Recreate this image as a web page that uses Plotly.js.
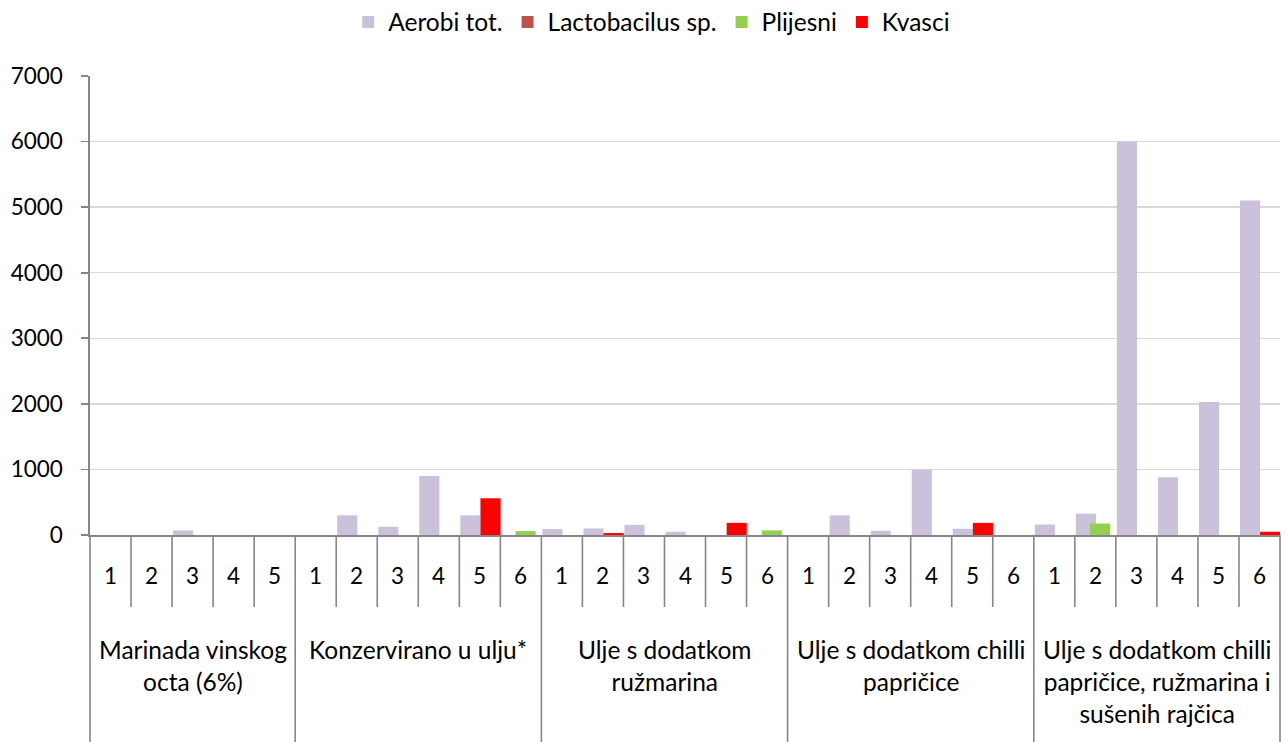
<!DOCTYPE html>
<html>
<head>
<meta charset="utf-8">
<script src="https://cdn.plot.ly/plotly-3.0.1.min.js"></script>
<style>html,body{margin:0;padding:0;background:#fff;}#chart{width:1288px;height:742px;}</style>
</head>
<body>
<div id="chart"></div>
<script>
// ---- data ----
var groupNames = [
  "Marinada vinskog<br>octa (6%)",
  "Konzervirano u ulju*",
  "Ulje s dodatkom<br>ružmarina",
  "Ulje s dodatkom chilli<br>papričice",
  "Ulje s dodatkom chilli<br>papričice, ružmarina i<br>sušenih rajčica"
];
var groupSizes = [5, 6, 6, 6, 6];
var seriesNames = ["Aerobi tot.", "Lactobacilus sp.", "Plijesni", "Kvasci"];
var seriesColors = ["#CCC1DA", "#C0504D", "#92D050", "#FF0000"];
// values per item, in order (group 1 items 1-5, group 2 items 1-6, ...)
var aerobi   = [0, 0, 70, 0, 0,   0, 300, 125, 900, 300, 0,   90, 100, 155, 50, 0, 0,   0, 300, 65, 1000, 95, 0,   160, 325, 6000, 880, 2030, 5100];
var lacto    = [0, 0, 0, 0, 0,    0, 0, 0, 0, 0, 0,           0, 0, 0, 0, 0, 0,          0, 0, 0, 0, 0, 0,          0, 0, 0, 0, 0, 0];
var plijesni = [0, 0, 0, 0, 0,    0, 0, 0, 0, 0, 60,          0, 0, 0, 0, 0, 70,         0, 0, 0, 0, 0, 0,          0, 175, 0, 0, 0, 0];
var kvasci   = [0, 0, 0, 0, 0,    0, 0, 0, 0, 560, 0,         0, 30, 0, 0, 185, 0,       0, 0, 0, 0, 185, 0,        0, 0, 0, 0, 0, 50];
var yTicks = [0, 1000, 2000, 3000, 4000, 5000, 6000, 7000];

// ---- build ----
var xPos = [], itemLabels = [];
var idx = 0;
groupSizes.forEach(function (n) {
  for (var k = 1; k <= n; k++) { xPos.push(idx); itemLabels.push(String(k)); idx++; }
});
var nItems = idx;

var seriesValues = [aerobi, lacto, plijesni, kvasci];
var offsets = [-0.475, -0.31, -0.13, 0.015];
var widths = [0.49, 0.49, 0.49, 0.49];

var traces = seriesValues.map(function (vals, s) {
  return {
    type: "bar", x: xPos, y: vals, name: seriesNames[s],
    marker: { color: seriesColors[s], line: { width: 0 } },
    offset: offsets[s], width: widths[s], hoverinfo: "x+y+name"
  };
});

var FONT = "Lato, 'Open Sans', sans-serif";
var TEXT_SIZE = 24.5, NUM_SIZE = 22.5;
var plotTop = 76, plotBottom = 535, plotH = plotBottom - plotTop;
function pyPaper(px) { return (plotBottom - px) / plotH; }
function pxPaper(i) { return (i + 0.5) / nItems; }

var shapes = [], annotations = [];
var lineStyle = { color: "#868686", width: 1.6 };
var boundaries = [0];
var acc = 0;
groupSizes.forEach(function (n) { acc += n; boundaries.push(acc); });
for (var b = 0; b <= nItems; b++) {
  var isGroup = boundaries.indexOf(b) >= 0;
  shapes.push({
    type: "line", xref: "paper", yref: "paper",
    x0: b / nItems, x1: b / nItems,
    y0: pyPaper(plotBottom), y1: pyPaper(isGroup ? 742 : 607),
    line: lineStyle, layer: "above"
  });
}
for (var i = 0; i < nItems; i++) {
  annotations.push({
    xref: "paper", yref: "paper", x: pxPaper(i), y: pyPaper(575.5),
    text: itemLabels[i], showarrow: false, xanchor: "center", yanchor: "middle",
    font: { family: FONT, size: NUM_SIZE, color: "#000" }
  });
}
for (var g = 0; g < groupNames.length; g++) {
  var c = (boundaries[g] + boundaries[g + 1]) / 2 / nItems;
  annotations.push({
    xref: "paper", yref: "paper", x: c, y: pyPaper(633),
    text: groupNames[g], showarrow: false, xanchor: "center", yanchor: "top",
    align: "center", font: { family: FONT, size: TEXT_SIZE, color: "#000" }
  });
}

var layout = {
  width: 1288, height: 742,
  margin: { l: 90, r: 8, t: plotTop, b: 742 - plotBottom, pad: 0 },
  paper_bgcolor: "#fff", plot_bgcolor: "#fff",
  barmode: "overlay",
  font: { family: FONT, size: TEXT_SIZE, color: "#000" },
  showlegend: true,
  legend: {
    orientation: "h", xref: "container", yref: "container",
    x: 0.506, xanchor: "center", y: 1 - 22 / 742, yanchor: "middle",
    font: { family: FONT, size: TEXT_SIZE, color: "#000" },
    traceorder: "normal", itemclick: false, itemdoubleclick: false
  },
  xaxis: {
    range: [-0.5, nItems - 0.5], showticklabels: false, ticks: "",
    showgrid: false, zeroline: false, showline: true,
    linecolor: "#868686", linewidth: 1.6, fixedrange: true
  },
  yaxis: {
    range: [0, 7000], tickvals: yTicks, ticktext: yTicks.map(String),
    showgrid: true, gridcolor: "#D9D9D9", gridwidth: 1.5,
    zeroline: false, showline: true, linecolor: "#868686", linewidth: 1.6,
    ticks: "outside", ticklen: 7, tickcolor: "#868686", tickwidth: 1.6,
    ticklabelstandoff: 14, tickfont: { family: FONT, size: NUM_SIZE, color: "#000" },
    fixedrange: true
  },
  shapes: shapes,
  annotations: annotations
};

Plotly.newPlot("chart", traces, layout, { displayModeBar: false, staticPlot: true });
</script>
</body>
</html>
